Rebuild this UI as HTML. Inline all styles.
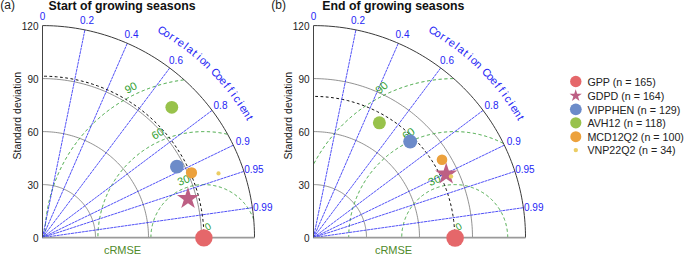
<!DOCTYPE html>
<html><head><meta charset="utf-8"><style>html,body{margin:0;padding:0;background:#fff}svg{display:block}</style></head>
<body>
<svg width="685" height="255" viewBox="0 0 685 255" font-family="'Liberation Sans', sans-serif">
<rect width="100%" height="100%" fill="#fff"/>
<path d="M95.50,237.60 L95.49,236.68 L95.47,235.75 L95.43,234.83 L95.37,233.90 L95.30,232.98 L95.21,232.06 L95.10,231.14 L94.98,230.22 L94.85,229.31 L94.69,228.40 L94.53,227.49 L94.34,226.58 L94.14,225.68 L93.93,224.78 L93.69,223.88 L93.45,222.99 L93.18,222.10 L92.91,221.22 L92.61,220.34 L92.30,219.47 L91.98,218.61 L91.64,217.75 L91.29,216.89 L90.92,216.04 L90.53,215.20 L90.14,214.37 L89.72,213.54 L89.30,212.72 L88.85,211.91 L88.40,211.10 L87.93,210.30 L87.45,209.51 L86.95,208.73 L86.44,207.96 L85.92,207.20 L85.38,206.45 L84.83,205.70 L84.26,204.97 L83.69,204.25 L83.10,203.53 L82.50,202.83 L81.89,202.14 L81.26,201.45 L80.63,200.78 L79.98,200.12 L79.32,199.47 L78.65,198.84 L77.96,198.21 L77.27,197.60 L76.57,197.00 L75.85,196.41 L75.13,195.84 L74.40,195.27 L73.65,194.72 L72.90,194.18 L72.14,193.66 L71.37,193.15 L70.59,192.65 L69.80,192.17 L69.00,191.70 L68.19,191.25 L67.38,190.80 L66.56,190.38 L65.73,189.96 L64.90,189.57 L64.06,189.18 L63.21,188.81 L62.35,188.46 L61.49,188.12 L60.63,187.80 L59.76,187.49 L58.88,187.19 L58.00,186.92 L57.11,186.65 L56.22,186.41 L55.32,186.17 L54.42,185.96 L53.52,185.76 L52.61,185.57 L51.70,185.41 L50.79,185.25 L49.88,185.12 L48.96,185.00 L48.04,184.89 L47.12,184.80 L46.20,184.73 L45.27,184.67 L44.35,184.63 L43.42,184.61 L42.50,184.60" fill="none" stroke="#6e6e6e" stroke-width="0.75"/>
<path d="M148.50,237.60 L148.48,235.75 L148.44,233.90 L148.35,232.05 L148.24,230.21 L148.10,228.36 L147.92,226.52 L147.71,224.68 L147.47,222.85 L147.19,221.02 L146.89,219.19 L146.55,217.37 L146.18,215.56 L145.78,213.76 L145.35,211.96 L144.89,210.17 L144.39,208.38 L143.87,206.61 L143.31,204.84 L142.72,203.09 L142.11,201.35 L141.46,199.61 L140.78,197.89 L140.07,196.18 L139.34,194.49 L138.57,192.80 L137.77,191.13 L136.95,189.48 L136.09,187.84 L135.21,186.21 L134.30,184.60 L133.36,183.01 L132.39,181.43 L131.40,179.87 L130.38,178.33 L129.33,176.80 L128.26,175.29 L127.16,173.81 L126.03,172.34 L124.88,170.89 L123.70,169.46 L122.50,168.06 L121.27,166.67 L120.02,165.31 L118.75,163.97 L117.45,162.65 L116.13,161.35 L114.79,160.08 L113.43,158.83 L112.04,157.60 L110.64,156.40 L109.21,155.22 L107.76,154.07 L106.29,152.94 L104.81,151.84 L103.30,150.77 L101.77,149.72 L100.23,148.70 L98.67,147.71 L97.09,146.74 L95.50,145.80 L93.89,144.89 L92.26,144.01 L90.62,143.15 L88.97,142.33 L87.30,141.53 L85.61,140.76 L83.92,140.03 L82.21,139.32 L80.49,138.64 L78.75,137.99 L77.01,137.38 L75.26,136.79 L73.49,136.23 L71.72,135.71 L69.93,135.21 L68.14,134.75 L66.34,134.32 L64.54,133.92 L62.73,133.55 L60.91,133.21 L59.08,132.91 L57.25,132.63 L55.42,132.39 L53.58,132.18 L51.74,132.00 L49.89,131.86 L48.05,131.75 L46.20,131.66 L44.35,131.62 L42.50,131.60" fill="none" stroke="#6e6e6e" stroke-width="0.75"/>
<path d="M201.50,237.60 L201.48,234.83 L201.40,232.05 L201.28,229.28 L201.11,226.51 L200.89,223.74 L200.63,220.98 L200.31,218.22 L199.95,215.47 L199.54,212.73 L199.08,209.99 L198.58,207.26 L198.03,204.54 L197.42,201.83 L196.78,199.13 L196.08,196.45 L195.34,193.77 L194.55,191.11 L193.72,188.47 L192.84,185.83 L191.91,183.22 L190.94,180.62 L189.92,178.04 L188.86,175.47 L187.75,172.93 L186.60,170.40 L185.41,167.90 L184.17,165.42 L182.89,162.95 L181.56,160.52 L180.20,158.10 L178.79,155.71 L177.34,153.34 L175.85,151.00 L174.32,148.69 L172.75,146.40 L171.13,144.14 L169.48,141.91 L167.79,139.71 L166.07,137.54 L164.30,135.40 L162.50,133.29 L160.66,131.21 L158.79,129.16 L156.88,127.15 L154.93,125.17 L152.95,123.22 L150.94,121.31 L148.89,119.44 L146.81,117.60 L144.70,115.80 L142.56,114.03 L140.39,112.31 L138.19,110.62 L135.96,108.97 L133.70,107.35 L131.41,105.78 L129.10,104.25 L126.76,102.76 L124.39,101.31 L122.00,99.90 L119.58,98.54 L117.15,97.21 L114.68,95.93 L112.20,94.69 L109.70,93.50 L107.17,92.35 L104.63,91.24 L102.06,90.18 L99.48,89.16 L96.88,88.19 L94.27,87.26 L91.63,86.38 L88.99,85.55 L86.33,84.76 L83.65,84.02 L80.97,83.32 L78.27,82.68 L75.56,82.07 L72.84,81.52 L70.11,81.02 L67.37,80.56 L64.63,80.15 L61.88,79.79 L59.12,79.47 L56.36,79.21 L53.59,78.99 L50.82,78.82 L48.05,78.70 L45.27,78.62 L42.50,78.60" fill="none" stroke="#6e6e6e" stroke-width="0.75"/>
<path d="M253.70,219.47 L253.62,219.26 L253.54,219.04 L253.46,218.82 L253.38,218.61 L253.30,218.39 L253.21,218.18 L253.13,217.96 L253.04,217.75 L252.95,217.53 L252.87,217.32 L252.78,217.10 L252.69,216.89 L252.60,216.68 L252.50,216.47 L252.41,216.25 L252.32,216.04 L252.22,215.83 L252.13,215.62 L252.03,215.41 L251.93,215.20 L251.84,214.99 L251.74,214.78 L251.64,214.57 L251.54,214.37 L251.43,214.16 L251.33,213.95 L251.23,213.74 L251.12,213.54 L251.02,213.33 L250.91,213.13 L250.80,212.92 L250.70,212.72 L250.59,212.51 L250.48,212.31 L250.37,212.11 L250.25,211.91 L250.14,211.70 L250.03,211.50 L249.91,211.30 L249.80,211.10 L249.68,210.90 L249.57,210.70 L249.45,210.50 L249.33,210.30 L249.21,210.11 L249.09,209.91 L248.97,209.71 L248.85,209.51 L248.72,209.32 L248.60,209.12 L248.48,208.93 L248.35,208.73 L248.22,208.54 L248.10,208.35 L247.97,208.15 L247.84,207.96 L247.71,207.77 L247.58,207.58 L247.45,207.39 L247.32,207.20 L247.18,207.01 L247.05,206.82 L246.91,206.63 L246.78,206.45 L246.64,206.26 L246.50,206.07 L246.37,205.89 L246.23,205.70 L246.09,205.52 L245.95,205.34 L245.81,205.15 L245.66,204.97 L245.52,204.79 L245.38,204.61 L245.23,204.43 L245.09,204.25 L244.94,204.07 L244.80,203.89 L244.65,203.71 L244.50,203.53 L244.35,203.36 L244.20,203.18 L244.05,203.00 L243.90,202.83 L243.75,202.65 L243.59,202.48 L243.44,202.31 L243.29,202.14 L243.13,201.96 L242.98,201.79 L242.82,201.62 L242.66,201.45 L242.50,201.29 L242.34,201.12 L242.19,200.95 L242.03,200.78 L241.86,200.62 L241.70,200.45 L241.54,200.29 L241.38,200.12 L241.21,199.96 L241.05,199.80 L240.88,199.64 L240.72,199.47 L240.55,199.31 L240.38,199.16 L240.21,199.00 L240.05,198.84 L239.88,198.68 L239.71,198.52 L239.54,198.37 L239.36,198.21 L239.19,198.06 L239.02,197.91 L238.85,197.75 L238.67,197.60 L238.50,197.45 L238.32,197.30 L238.14,197.15 L237.97,197.00 L237.79,196.85 L237.61,196.70 L237.43,196.56 L237.25,196.41 L237.07,196.27 L236.89,196.12 L236.71,195.98 L236.53,195.84 L236.35,195.69 L236.16,195.55 L235.98,195.41 L235.80,195.27 L235.61,195.13 L235.43,195.00 L235.24,194.86 L235.05,194.72 L234.87,194.59 L234.68,194.45 L234.49,194.32 L234.30,194.18 L234.11,194.05 L233.92,193.92 L233.73,193.79 L233.54,193.66 L233.35,193.53 L233.15,193.40 L232.96,193.28 L232.77,193.15 L232.57,193.02 L232.38,192.90 L232.18,192.78 L231.99,192.65 L231.79,192.53 L231.59,192.41 L231.39,192.29 L231.20,192.17 L231.00,192.05 L230.80,191.93 L230.60,191.82 L230.40,191.70 L230.20,191.59 L230.00,191.47 L229.80,191.36 L229.59,191.25 L229.39,191.13 L229.19,191.02 L228.99,190.91 L228.78,190.80 L228.58,190.70 L228.37,190.59 L228.17,190.48 L227.96,190.38 L227.76,190.27 L227.55,190.17 L227.34,190.07 L227.13,189.96 L226.93,189.86 L226.72,189.76 L226.51,189.66 L226.30,189.57 L226.09,189.47 L225.88,189.37 L225.67,189.28 L225.46,189.18 L225.25,189.09 L225.03,189.00 L224.82,188.90 L224.61,188.81 L224.40,188.72 L224.18,188.63 L223.97,188.55 L223.75,188.46 L223.54,188.37 L223.32,188.29 L223.11,188.20 L222.89,188.12 L222.68,188.04 L222.46,187.96 L222.24,187.88 L222.03,187.80 L221.81,187.72 L221.59,187.64 L221.37,187.56 L221.16,187.49 L220.94,187.41 L220.72,187.34 L220.50,187.27 L220.28,187.19 L220.06,187.12 L219.84,187.05 L219.62,186.98 L219.40,186.92 L219.17,186.85 L218.95,186.78 L218.73,186.72 L218.51,186.65 L218.29,186.59 L218.06,186.53 L217.84,186.47 L217.62,186.41 L217.39,186.35 L217.17,186.29 L216.95,186.23 L216.72,186.17 L216.50,186.12 L216.27,186.06 L216.05,186.01 L215.82,185.96 L215.60,185.91 L215.37,185.86 L215.15,185.81 L214.92,185.76 L214.69,185.71 L214.47,185.66 L214.24,185.62 L214.01,185.57 L213.79,185.53 L213.56,185.49 L213.33,185.45 L213.10,185.41 L212.88,185.37 L212.65,185.33 L212.42,185.29 L212.19,185.25 L211.96,185.22 L211.73,185.18 L211.51,185.15 L211.28,185.12 L211.05,185.08 L210.82,185.05 L210.59,185.02 L210.36,185.00 L210.13,184.97 L209.90,184.94 L209.67,184.92 L209.44,184.89 L209.21,184.87 L208.98,184.84 L208.75,184.82 L208.52,184.80 L208.29,184.78 L208.06,184.76 L207.83,184.75 L207.60,184.73 L207.37,184.71 L207.14,184.70 L206.90,184.69 L206.67,184.67 L206.44,184.66 L206.21,184.65 L205.98,184.64 L205.75,184.63 L205.52,184.62 L205.29,184.62 L205.06,184.61 L204.82,184.61 L204.59,184.60 L204.36,184.60 L204.13,184.60 L203.90,184.60 L203.67,184.60 L203.44,184.60 L203.21,184.60 L202.98,184.61 L202.74,184.61 L202.51,184.62 L202.28,184.62 L202.05,184.63 L201.82,184.64 L201.59,184.65 L201.36,184.66 L201.13,184.67 L200.90,184.69 L200.66,184.70 L200.43,184.71 L200.20,184.73 L199.97,184.75 L199.74,184.76 L199.51,184.78 L199.28,184.80 L199.05,184.82 L198.82,184.84 L198.59,184.87 L198.36,184.89 L198.13,184.92 L197.90,184.94 L197.67,184.97 L197.44,185.00 L197.21,185.02 L196.98,185.05 L196.75,185.08 L196.52,185.12 L196.29,185.15 L196.07,185.18 L195.84,185.22 L195.61,185.25 L195.38,185.29 L195.15,185.33 L194.92,185.37 L194.70,185.41 L194.47,185.45 L194.24,185.49 L194.01,185.53 L193.79,185.57 L193.56,185.62 L193.33,185.66 L193.11,185.71 L192.88,185.76 L192.65,185.81 L192.43,185.86 L192.20,185.91 L191.98,185.96 L191.75,186.01 L191.53,186.06 L191.30,186.12 L191.08,186.17 L190.85,186.23 L190.63,186.29 L190.41,186.35 L190.18,186.41 L189.96,186.47 L189.74,186.53 L189.51,186.59 L189.29,186.65 L189.07,186.72 L188.85,186.78 L188.63,186.85 L188.40,186.92 L188.18,186.98 L187.96,187.05 L187.74,187.12 L187.52,187.19 L187.30,187.27 L187.08,187.34 L186.86,187.41 L186.64,187.49 L186.43,187.56 L186.21,187.64 L185.99,187.72 L185.77,187.80 L185.56,187.88 L185.34,187.96 L185.12,188.04 L184.91,188.12 L184.69,188.20 L184.48,188.29 L184.26,188.37 L184.05,188.46 L183.83,188.55 L183.62,188.63 L183.40,188.72 L183.19,188.81 L182.98,188.90 L182.77,189.00 L182.55,189.09 L182.34,189.18 L182.13,189.28 L181.92,189.37 L181.71,189.47 L181.50,189.57 L181.29,189.66 L181.08,189.76 L180.87,189.86 L180.67,189.96 L180.46,190.07 L180.25,190.17 L180.04,190.27 L179.84,190.38 L179.63,190.48 L179.43,190.59 L179.22,190.70 L179.02,190.80 L178.81,190.91 L178.61,191.02 L178.41,191.13 L178.21,191.25 L178.00,191.36 L177.80,191.47 L177.60,191.59 L177.40,191.70 L177.20,191.82 L177.00,191.93 L176.80,192.05 L176.60,192.17 L176.41,192.29 L176.21,192.41 L176.01,192.53 L175.81,192.65 L175.62,192.78 L175.42,192.90 L175.23,193.02 L175.03,193.15 L174.84,193.28 L174.65,193.40 L174.45,193.53 L174.26,193.66 L174.07,193.79 L173.88,193.92 L173.69,194.05 L173.50,194.18 L173.31,194.32 L173.12,194.45 L172.93,194.59 L172.75,194.72 L172.56,194.86 L172.37,195.00 L172.19,195.13 L172.00,195.27 L171.82,195.41 L171.64,195.55 L171.45,195.69 L171.27,195.84 L171.09,195.98 L170.91,196.12 L170.73,196.27 L170.55,196.41 L170.37,196.56 L170.19,196.70 L170.01,196.85 L169.83,197.00 L169.66,197.15 L169.48,197.30 L169.30,197.45 L169.13,197.60 L168.95,197.75 L168.78,197.91 L168.61,198.06 L168.44,198.21 L168.26,198.37 L168.09,198.52 L167.92,198.68 L167.75,198.84 L167.59,199.00 L167.42,199.16 L167.25,199.31 L167.08,199.47 L166.92,199.64 L166.75,199.80 L166.59,199.96 L166.42,200.12 L166.26,200.29 L166.10,200.45 L165.94,200.62 L165.77,200.78 L165.61,200.95 L165.46,201.12 L165.30,201.29 L165.14,201.45 L164.98,201.62 L164.82,201.79 L164.67,201.96 L164.51,202.14 L164.36,202.31 L164.21,202.48 L164.05,202.65 L163.90,202.83 L163.75,203.00 L163.60,203.18 L163.45,203.36 L163.30,203.53 L163.15,203.71 L163.00,203.89 L162.86,204.07 L162.71,204.25 L162.57,204.43 L162.42,204.61 L162.28,204.79 L162.14,204.97 L161.99,205.15 L161.85,205.34 L161.71,205.52 L161.57,205.70 L161.43,205.89 L161.30,206.07 L161.16,206.26 L161.02,206.45 L160.89,206.63 L160.75,206.82 L160.62,207.01 L160.48,207.20 L160.35,207.39 L160.22,207.58 L160.09,207.77 L159.96,207.96 L159.83,208.15 L159.70,208.35 L159.58,208.54 L159.45,208.73 L159.32,208.93 L159.20,209.12 L159.08,209.32 L158.95,209.51 L158.83,209.71 L158.71,209.91 L158.59,210.11 L158.47,210.30 L158.35,210.50 L158.23,210.70 L158.12,210.90 L158.00,211.10 L157.89,211.30 L157.77,211.50 L157.66,211.70 L157.55,211.91 L157.43,212.11 L157.32,212.31 L157.21,212.51 L157.10,212.72 L157.00,212.92 L156.89,213.13 L156.78,213.33 L156.68,213.54 L156.57,213.74 L156.47,213.95 L156.37,214.16 L156.26,214.37 L156.16,214.57 L156.06,214.78 L155.96,214.99 L155.87,215.20 L155.77,215.41 L155.67,215.62 L155.58,215.83 L155.48,216.04 L155.39,216.25 L155.30,216.47 L155.20,216.68 L155.11,216.89 L155.02,217.10 L154.93,217.32 L154.85,217.53 L154.76,217.75 L154.67,217.96 L154.59,218.18 L154.50,218.39 L154.42,218.61 L154.34,218.82 L154.26,219.04 L154.18,219.26 L154.10,219.47 L154.02,219.69 L153.94,219.91 L153.86,220.13 L153.79,220.34 L153.71,220.56 L153.64,220.78 L153.57,221.00 L153.49,221.22 L153.42,221.44 L153.35,221.66 L153.28,221.88 L153.22,222.10 L153.15,222.33 L153.08,222.55 L153.02,222.77 L152.95,222.99 L152.89,223.21 L152.83,223.44 L152.77,223.66 L152.71,223.88 L152.65,224.11 L152.59,224.33 L152.53,224.55 L152.47,224.78 L152.42,225.00 L152.36,225.23 L152.31,225.45 L152.26,225.68 L152.21,225.90 L152.16,226.13 L152.11,226.35 L152.06,226.58 L152.01,226.81 L151.96,227.03 L151.92,227.26 L151.87,227.49 L151.83,227.71 L151.79,227.94 L151.75,228.17 L151.71,228.40 L151.67,228.62 L151.63,228.85 L151.59,229.08 L151.55,229.31 L151.52,229.54 L151.48,229.77 L151.45,229.99 L151.42,230.22 L151.38,230.45 L151.35,230.68 L151.32,230.91 L151.30,231.14 L151.27,231.37 L151.24,231.60 L151.22,231.83 L151.19,232.06 L151.17,232.29 L151.14,232.52 L151.12,232.75 L151.10,232.98 L151.08,233.21 L151.06,233.44 L151.05,233.67 L151.03,233.90 L151.01,234.13 L151.00,234.36 L150.99,234.60 L150.97,234.83 L150.96,235.06 L150.95,235.29 L150.94,235.52 L150.93,235.75 L150.92,235.98 L150.92,236.21 L150.91,236.44 L150.91,236.68 L150.90,236.91 L150.90,237.14 L150.90,237.37 L150.90,237.60" fill="none" stroke="#33a033" stroke-width="1" stroke-dasharray="3.2,2.6"/>
<path d="M227.29,134.21 L226.84,134.11 L226.39,134.01 L225.94,133.92 L225.49,133.82 L225.03,133.73 L224.58,133.64 L224.13,133.55 L223.67,133.46 L223.22,133.37 L222.76,133.29 L222.31,133.21 L221.85,133.13 L221.40,133.05 L220.94,132.98 L220.48,132.91 L220.03,132.83 L219.57,132.76 L219.11,132.70 L218.65,132.63 L218.19,132.57 L217.74,132.51 L217.28,132.45 L216.82,132.39 L216.36,132.33 L215.90,132.28 L215.44,132.23 L214.98,132.18 L214.52,132.13 L214.06,132.09 L213.60,132.04 L213.14,132.00 L212.68,131.96 L212.22,131.93 L211.76,131.89 L211.29,131.86 L210.83,131.83 L210.37,131.80 L209.91,131.77 L209.45,131.75 L208.99,131.72 L208.52,131.70 L208.06,131.68 L207.60,131.66 L207.14,131.65 L206.67,131.64 L206.21,131.63 L205.75,131.62 L205.29,131.61 L204.83,131.60 L204.36,131.60 L203.90,131.60 L203.44,131.60 L202.97,131.60 L202.51,131.61 L202.05,131.62 L201.59,131.63 L201.13,131.64 L200.66,131.65 L200.20,131.66 L199.74,131.68 L199.28,131.70 L198.81,131.72 L198.35,131.75 L197.89,131.77 L197.43,131.80 L196.97,131.83 L196.51,131.86 L196.04,131.89 L195.58,131.93 L195.12,131.96 L194.66,132.00 L194.20,132.04 L193.74,132.09 L193.28,132.13 L192.82,132.18 L192.36,132.23 L191.90,132.28 L191.44,132.33 L190.98,132.39 L190.52,132.45 L190.06,132.51 L189.61,132.57 L189.15,132.63 L188.69,132.70 L188.23,132.76 L187.77,132.83 L187.32,132.91 L186.86,132.98 L186.40,133.05 L185.95,133.13 L185.49,133.21 L185.04,133.29 L184.58,133.37 L184.13,133.46 L183.67,133.55 L183.22,133.64 L182.77,133.73 L182.31,133.82 L181.86,133.92 L181.41,134.01 L180.96,134.11 L180.51,134.21 L180.06,134.32 L179.60,134.42 L179.15,134.53 L178.71,134.64 L178.26,134.75 L177.81,134.86 L177.36,134.98 L176.91,135.09 L176.47,135.21 L176.02,135.33 L175.57,135.46 L175.13,135.58 L174.68,135.71 L174.24,135.83 L173.79,135.97 L173.35,136.10 L172.91,136.23 L172.47,136.37 L172.03,136.51 L171.58,136.65 L171.14,136.79 L170.70,136.93 L170.27,137.08 L169.83,137.23 L169.39,137.38 L168.95,137.53 L168.52,137.68 L168.08,137.84 L167.65,137.99 L167.21,138.15 L166.78,138.31 L166.35,138.48 L165.91,138.64 L165.48,138.81 L165.05,138.98 L164.62,139.15 L164.19,139.32 L163.76,139.49 L163.34,139.67 L162.91,139.85 L162.48,140.03 L162.06,140.21 L161.63,140.39 L161.21,140.58 L160.79,140.76 L160.36,140.95 L159.94,141.14 L159.52,141.34 L159.10,141.53 L158.68,141.73 L158.27,141.93 L157.85,142.13 L157.43,142.33 L157.02,142.53 L156.60,142.74 L156.19,142.94 L155.78,143.15 L155.37,143.36 L154.95,143.58 L154.54,143.79 L154.14,144.01 L153.73,144.23 L153.32,144.45 L152.92,144.67 L152.51,144.89 L152.11,145.12 L151.70,145.34 L151.30,145.57 L150.90,145.80 L150.50,146.03 L150.10,146.27 L149.70,146.50 L149.31,146.74 L148.91,146.98 L148.52,147.22 L148.12,147.46 L147.73,147.71 L147.34,147.95 L146.95,148.20 L146.56,148.45 L146.17,148.70 L145.78,148.95 L145.39,149.21 L145.01,149.46 L144.63,149.72 L144.24,149.98 L143.86,150.24 L143.48,150.51 L143.10,150.77 L142.72,151.04 L142.35,151.30 L141.97,151.57 L141.59,151.84 L141.22,152.12 L140.85,152.39 L140.48,152.67 L140.11,152.94 L139.74,153.22 L139.37,153.50 L139.00,153.79 L138.64,154.07 L138.28,154.36 L137.91,154.64 L137.55,154.93 L137.19,155.22 L136.83,155.51 L136.48,155.81 L136.12,156.10 L135.76,156.40 L135.41,156.70 L135.06,157.00 L134.71,157.30 L134.36,157.60 L134.01,157.90 L133.66,158.21 L133.32,158.52 L132.97,158.83 L132.63,159.14 L132.29,159.45 L131.95,159.76 L131.61,160.08 L131.27,160.39 L130.93,160.71 L130.60,161.03 L130.27,161.35 L129.93,161.67 L129.60,162.00 L129.27,162.32 L128.95,162.65 L128.62,162.97 L128.30,163.30 L127.97,163.63 L127.65,163.97 L127.33,164.30 L127.01,164.63 L126.69,164.97 L126.38,165.31 L126.06,165.65 L125.75,165.99 L125.44,166.33 L125.13,166.67 L124.82,167.02 L124.51,167.36 L124.20,167.71 L123.90,168.06 L123.60,168.41 L123.30,168.76 L123.00,169.11 L122.70,169.46 L122.40,169.82 L122.11,170.18 L121.81,170.53 L121.52,170.89 L121.23,171.25 L120.94,171.61 L120.66,171.98 L120.37,172.34 L120.09,172.70 L119.80,173.07 L119.52,173.44 L119.24,173.81 L118.97,174.18 L118.69,174.55 L118.42,174.92 L118.14,175.29 L117.87,175.67 L117.60,176.05 L117.34,176.42 L117.07,176.80 L116.81,177.18 L116.54,177.56 L116.28,177.94 L116.02,178.33 L115.76,178.71 L115.51,179.09 L115.25,179.48 L115.00,179.87 L114.75,180.26 L114.50,180.65 L114.25,181.04 L114.01,181.43 L113.76,181.82 L113.52,182.22 L113.28,182.61 L113.04,183.01 L112.80,183.40 L112.57,183.80 L112.33,184.20 L112.10,184.60 L111.87,185.00 L111.64,185.40 L111.42,185.81 L111.19,186.21 L110.97,186.62 L110.75,187.02 L110.53,187.43 L110.31,187.84 L110.09,188.24 L109.88,188.65 L109.66,189.07 L109.45,189.48 L109.24,189.89 L109.04,190.30 L108.83,190.72 L108.63,191.13 L108.43,191.55 L108.23,191.97 L108.03,192.38 L107.83,192.80 L107.64,193.22 L107.44,193.64 L107.25,194.06 L107.06,194.49 L106.88,194.91 L106.69,195.33 L106.51,195.76 L106.33,196.18 L106.15,196.61 L105.97,197.04 L105.79,197.46 L105.62,197.89 L105.45,198.32 L105.28,198.75 L105.11,199.18 L104.94,199.61 L104.78,200.05 L104.61,200.48 L104.45,200.91 L104.29,201.35 L104.14,201.78 L103.98,202.22 L103.83,202.65 L103.68,203.09 L103.53,203.53 L103.38,203.97 L103.23,204.40 L103.09,204.84 L102.95,205.28 L102.81,205.73 L102.67,206.17 L102.53,206.61 L102.40,207.05 L102.27,207.49 L102.13,207.94 L102.01,208.38 L101.88,208.83 L101.76,209.27 L101.63,209.72 L101.51,210.17 L101.39,210.61 L101.28,211.06 L101.16,211.51 L101.05,211.96 L100.94,212.41 L100.83,212.85 L100.72,213.30 L100.62,213.76 L100.51,214.21 L100.41,214.66 L100.31,215.11 L100.22,215.56 L100.12,216.01 L100.03,216.47 L99.94,216.92 L99.85,217.37 L99.76,217.83 L99.67,218.28 L99.59,218.74 L99.51,219.19 L99.43,219.65 L99.35,220.10 L99.28,220.56 L99.21,221.02 L99.13,221.47 L99.06,221.93 L99.00,222.39 L98.93,222.85 L98.87,223.31 L98.81,223.76 L98.75,224.22 L98.69,224.68 L98.63,225.14 L98.58,225.60 L98.53,226.06 L98.48,226.52 L98.43,226.98 L98.39,227.44 L98.34,227.90 L98.30,228.36 L98.26,228.82 L98.23,229.28 L98.19,229.74 L98.16,230.21 L98.13,230.67 L98.10,231.13 L98.07,231.59 L98.05,232.05 L98.02,232.51 L98.00,232.98 L97.98,233.44 L97.96,233.90 L97.95,234.36 L97.94,234.83 L97.93,235.29 L97.92,235.75 L97.91,236.21 L97.90,236.67 L97.90,237.14 L97.90,237.60" fill="none" stroke="#33a033" stroke-width="1" stroke-dasharray="3.2,2.6"/>
<path d="M183.83,79.87 L183.15,79.96 L182.46,80.05 L181.77,80.15 L181.08,80.25 L180.40,80.35 L179.71,80.45 L179.03,80.56 L178.34,80.67 L177.66,80.78 L176.97,80.90 L176.29,81.02 L175.61,81.14 L174.92,81.26 L174.24,81.39 L173.56,81.52 L172.88,81.66 L172.20,81.79 L171.52,81.93 L170.84,82.07 L170.16,82.22 L169.49,82.37 L168.81,82.52 L168.13,82.68 L167.46,82.83 L166.78,82.99 L166.11,83.16 L165.43,83.32 L164.76,83.49 L164.09,83.66 L163.42,83.84 L162.75,84.02 L162.08,84.20 L161.41,84.38 L160.74,84.57 L160.07,84.76 L159.41,84.95 L158.74,85.15 L158.08,85.35 L157.41,85.55 L156.75,85.75 L156.09,85.96 L155.43,86.17 L154.77,86.38 L154.11,86.60 L153.45,86.82 L152.79,87.04 L152.13,87.26 L151.48,87.49 L150.82,87.72 L150.17,87.95 L149.52,88.19 L148.87,88.43 L148.22,88.67 L147.57,88.91 L146.92,89.16 L146.27,89.41 L145.63,89.66 L144.98,89.92 L144.34,90.18 L143.69,90.44 L143.05,90.70 L142.41,90.97 L141.77,91.24 L141.14,91.51 L140.50,91.79 L139.86,92.07 L139.23,92.35 L138.60,92.63 L137.96,92.92 L137.33,93.21 L136.70,93.50 L136.08,93.79 L135.45,94.09 L134.82,94.39 L134.20,94.69 L133.58,95.00 L132.95,95.31 L132.33,95.62 L131.72,95.93 L131.10,96.25 L130.48,96.57 L129.87,96.89 L129.25,97.21 L128.64,97.54 L128.03,97.87 L127.42,98.20 L126.82,98.54 L126.21,98.87 L125.60,99.21 L125.00,99.56 L124.40,99.90 L123.80,100.25 L123.20,100.60 L122.60,100.95 L122.01,101.31 L121.42,101.67 L120.82,102.03 L120.23,102.39 L119.64,102.76 L119.06,103.13 L118.47,103.50 L117.89,103.87 L117.30,104.25 L116.72,104.63 L116.14,105.01 L115.56,105.40 L114.99,105.78 L114.41,106.17 L113.84,106.56 L113.27,106.96 L112.70,107.35 L112.13,107.75 L111.57,108.16 L111.00,108.56 L110.44,108.97 L109.88,109.38 L109.32,109.79 L108.77,110.20 L108.21,110.62 L107.66,111.04 L107.11,111.46 L106.56,111.88 L106.01,112.31 L105.46,112.73 L104.92,113.17 L104.38,113.60 L103.84,114.03 L103.30,114.47 L102.76,114.91 L102.23,115.35 L101.70,115.80 L101.17,116.25 L100.64,116.70 L100.11,117.15 L99.59,117.60 L99.06,118.06 L98.54,118.52 L98.02,118.98 L97.51,119.44 L96.99,119.91 L96.48,120.37 L95.97,120.84 L95.46,121.31 L94.96,121.79 L94.45,122.27 L93.95,122.74 L93.45,123.22 L92.95,123.71 L92.46,124.19 L91.96,124.68 L91.47,125.17 L90.98,125.66 L90.49,126.16 L90.01,126.65 L89.52,127.15 L89.04,127.65 L88.57,128.15 L88.09,128.66 L87.61,129.16 L87.14,129.67 L86.67,130.18 L86.21,130.69 L85.74,131.21 L85.28,131.72 L84.82,132.24 L84.36,132.76 L83.90,133.29 L83.45,133.81 L83.00,134.34 L82.55,134.87 L82.10,135.40 L81.65,135.93 L81.21,136.46 L80.77,137.00 L80.33,137.54 L79.90,138.08 L79.47,138.62 L79.03,139.16 L78.61,139.71 L78.18,140.26 L77.76,140.81 L77.34,141.36 L76.92,141.91 L76.50,142.47 L76.09,143.02 L75.68,143.58 L75.27,144.14 L74.86,144.70 L74.46,145.27 L74.05,145.83 L73.65,146.40 L73.26,146.97 L72.86,147.54 L72.47,148.11 L72.08,148.69 L71.70,149.26 L71.31,149.84 L70.93,150.42 L70.55,151.00 L70.17,151.59 L69.80,152.17 L69.43,152.76 L69.06,153.34 L68.69,153.93 L68.33,154.52 L67.97,155.12 L67.61,155.71 L67.25,156.30 L66.90,156.90 L66.55,157.50 L66.20,158.10 L65.86,158.70 L65.51,159.30 L65.17,159.91 L64.84,160.52 L64.50,161.12 L64.17,161.73 L63.84,162.34 L63.51,162.95 L63.19,163.57 L62.87,164.18 L62.55,164.80 L62.23,165.42 L61.92,166.03 L61.61,166.65 L61.30,167.28 L60.99,167.90 L60.69,168.52 L60.39,169.15 L60.09,169.78 L59.80,170.40 L59.51,171.03 L59.22,171.66 L58.93,172.30 L58.65,172.93 L58.37,173.56 L58.09,174.20 L57.81,174.84 L57.54,175.47 L57.27,176.11 L57.00,176.75 L56.74,177.39 L56.48,178.04 L56.22,178.68 L55.96,179.33 L55.71,179.97 L55.46,180.62 L55.21,181.27 L54.97,181.92 L54.73,182.57 L54.49,183.22 L54.25,183.87 L54.02,184.52 L53.79,185.18 L53.56,185.83 L53.34,186.49 L53.12,187.15 L52.90,187.81 L52.68,188.47 L52.47,189.13 L52.26,189.79 L52.05,190.45 L51.85,191.11 L51.65,191.78 L51.45,192.44 L51.25,193.11 L51.06,193.77 L50.87,194.44 L50.68,195.11 L50.50,195.78 L50.32,196.45 L50.14,197.12 L49.96,197.79 L49.79,198.46 L49.62,199.13 L49.46,199.81 L49.29,200.48 L49.13,201.16 L48.98,201.83 L48.82,202.51 L48.67,203.19 L48.52,203.86 L48.37,204.54 L48.23,205.22 L48.09,205.90 L47.96,206.58 L47.82,207.26 L47.69,207.94 L47.56,208.62 L47.44,209.31 L47.32,209.99 L47.20,210.67 L47.08,211.36 L46.97,212.04 L46.86,212.73 L46.75,213.41 L46.65,214.10 L46.55,214.78 L46.45,215.47 L46.35,216.16 L46.26,216.85 L46.17,217.53 L46.09,218.22 L46.00,218.91 L45.92,219.60 L45.85,220.29 L45.77,220.98 L45.70,221.67 L45.63,222.36 L45.57,223.05 L45.51,223.74 L45.45,224.43 L45.39,225.13 L45.34,225.82 L45.29,226.51 L45.24,227.20 L45.20,227.89 L45.16,228.59 L45.12,229.28 L45.08,229.97 L45.05,230.66 L45.02,231.36 L45.00,232.05 L44.97,232.74 L44.95,233.44 L44.94,234.13 L44.92,234.83 L44.91,235.52 L44.91,236.21 L44.90,236.91 L44.90,237.60" fill="none" stroke="#33a033" stroke-width="1" stroke-dasharray="3.2,2.6"/>
<path d="M203.90,237.60 L203.88,234.78 L203.80,231.97 L203.68,229.15 L203.51,226.34 L203.29,223.53 L203.02,220.73 L202.70,217.93 L202.33,215.14 L201.91,212.35 L201.45,209.57 L200.93,206.80 L200.37,204.04 L199.76,201.29 L199.11,198.55 L198.40,195.83 L197.65,193.11 L196.85,190.41 L196.00,187.72 L195.11,185.05 L194.17,182.40 L193.18,179.76 L192.15,177.14 L191.07,174.54 L189.95,171.95 L188.78,169.39 L187.57,166.85 L186.31,164.33 L185.01,161.83 L183.66,159.35 L182.28,156.90 L180.85,154.47 L179.37,152.07 L177.86,149.70 L176.31,147.35 L174.71,145.02 L173.08,142.73 L171.40,140.47 L169.68,138.23 L167.93,136.03 L166.14,133.85 L164.31,131.71 L162.44,129.60 L160.54,127.53 L158.60,125.48 L156.63,123.47 L154.62,121.50 L152.57,119.56 L150.50,117.66 L148.39,115.79 L146.25,113.96 L144.07,112.17 L141.87,110.42 L139.63,108.70 L137.37,107.02 L135.08,105.39 L132.75,103.79 L130.40,102.24 L128.03,100.73 L125.63,99.25 L123.20,97.82 L120.75,96.44 L118.27,95.09 L115.77,93.79 L113.25,92.53 L110.71,91.32 L108.15,90.15 L105.56,89.03 L102.96,87.95 L100.34,86.92 L97.70,85.93 L95.05,84.99 L92.38,84.10 L89.69,83.25 L86.99,82.45 L84.27,81.70 L81.55,80.99 L78.81,80.34 L76.06,79.73 L73.30,79.17 L70.53,78.65 L67.75,78.19 L64.96,77.77 L62.17,77.40 L59.37,77.08 L56.57,76.81 L53.76,76.59 L50.95,76.42 L48.13,76.30 L45.32,76.22 L42.50,76.20" fill="none" stroke="#000" stroke-width="0.95" stroke-dasharray="2.8,2.5"/>
<line x1="42.50" y1="237.60" x2="84.90" y2="29.88" stroke="#2626f5" stroke-width="0.8" stroke-dasharray="3,0.6"/>
<line x1="42.50" y1="237.60" x2="127.30" y2="43.30" stroke="#2626f5" stroke-width="0.8" stroke-dasharray="3,0.6"/>
<line x1="42.50" y1="237.60" x2="169.70" y2="68.00" stroke="#2626f5" stroke-width="0.8" stroke-dasharray="3,0.6"/>
<line x1="42.50" y1="237.60" x2="212.10" y2="110.40" stroke="#2626f5" stroke-width="0.8" stroke-dasharray="3,0.6"/>
<line x1="42.50" y1="237.60" x2="233.30" y2="145.19" stroke="#2626f5" stroke-width="0.8" stroke-dasharray="3,0.6"/>
<line x1="42.50" y1="237.60" x2="243.90" y2="171.40" stroke="#2626f5" stroke-width="0.8" stroke-dasharray="3,0.6"/>
<line x1="42.50" y1="237.60" x2="252.38" y2="207.69" stroke="#2626f5" stroke-width="0.8" stroke-dasharray="3,0.6"/>
<path d="M254.50,237.60 L254.47,233.90 L254.37,230.20 L254.21,226.50 L253.98,222.81 L253.69,219.12 L253.34,215.44 L252.92,211.76 L252.44,208.10 L251.89,204.44 L251.28,200.79 L250.60,197.15 L249.87,193.52 L249.07,189.91 L248.20,186.31 L247.28,182.73 L246.29,179.16 L245.24,175.62 L244.12,172.09 L242.95,168.58 L241.71,165.09 L240.42,161.63 L239.06,158.18 L237.65,154.77 L236.17,151.37 L234.64,148.00 L233.04,144.67 L231.39,141.35 L229.68,138.07 L227.92,134.82 L226.10,131.60 L224.22,128.41 L222.29,125.26 L220.30,122.14 L218.26,119.05 L216.16,116.00 L214.01,112.99 L211.81,110.02 L209.56,107.08 L207.25,104.18 L204.90,101.33 L202.50,98.52 L200.05,95.74 L197.55,93.02 L195.00,90.33 L192.41,87.69 L189.77,85.10 L187.08,82.55 L184.36,80.05 L181.58,77.60 L178.77,75.20 L175.92,72.85 L173.02,70.54 L170.08,68.29 L167.11,66.09 L164.10,63.94 L161.05,61.84 L157.96,59.80 L154.84,57.81 L151.69,55.88 L148.50,54.00 L145.28,52.18 L142.03,50.42 L138.75,48.71 L135.43,47.06 L132.10,45.46 L128.73,43.93 L125.33,42.45 L121.92,41.04 L118.47,39.68 L115.01,38.39 L111.52,37.15 L108.01,35.98 L104.48,34.86 L100.94,33.81 L97.37,32.82 L93.79,31.90 L90.19,31.03 L86.58,30.23 L82.95,29.50 L79.31,28.82 L75.66,28.21 L72.00,27.66 L68.34,27.18 L64.66,26.76 L60.98,26.41 L57.29,26.12 L53.60,25.89 L49.90,25.73 L46.20,25.63 L42.50,25.60" fill="none" stroke="#3a3a3a" stroke-width="1"/>
<line x1="42.50" y1="25.60" x2="42.50" y2="237.60" stroke="#444" stroke-width="1"/>
<line x1="42.50" y1="237.60" x2="254.50" y2="237.60" stroke="#9a9a9a" stroke-width="1.6"/>
<text x="38.50" y="242.20" font-size="10" text-anchor="end" fill="#222">0</text>
<text x="38.50" y="189.20" font-size="10" text-anchor="end" fill="#222">30</text>
<text x="38.50" y="136.20" font-size="10" text-anchor="end" fill="#222">60</text>
<text x="38.50" y="83.20" font-size="10" text-anchor="end" fill="#222">90</text>
<text x="38.50" y="30.20" font-size="10" text-anchor="end" fill="#222">120</text>
<text x="42.50" y="19.90" font-size="10" text-anchor="middle" fill="#2626f5">0</text>
<text x="87.00" y="24.40" font-size="10" text-anchor="middle" fill="#2626f5">0.2</text>
<text x="131.50" y="38.48" font-size="10" text-anchor="middle" fill="#2626f5">0.4</text>
<text x="176.00" y="64.40" font-size="10" text-anchor="middle" fill="#2626f5">0.6</text>
<text x="220.50" y="108.90" font-size="10" text-anchor="middle" fill="#2626f5">0.8</text>
<text x="242.75" y="145.41" font-size="10" text-anchor="middle" fill="#2626f5">0.9</text>
<text x="253.88" y="172.92" font-size="10" text-anchor="middle" fill="#2626f5">0.95</text>
<text x="262.77" y="211.01" font-size="10" text-anchor="middle" fill="#2626f5">0.99</text>
<text x="160.25" y="33.65" font-size="11" text-anchor="middle" fill="#2626f5" transform="rotate(30.00 160.25 33.65)">C</text>
<text x="165.07" y="36.51" font-size="11" text-anchor="middle" fill="#2626f5" transform="rotate(31.36 165.07 36.51)">o</text>
<text x="169.82" y="39.48" font-size="11" text-anchor="middle" fill="#2626f5" transform="rotate(32.73 169.82 39.48)">r</text>
<text x="174.50" y="42.57" font-size="11" text-anchor="middle" fill="#2626f5" transform="rotate(34.09 174.50 42.57)">r</text>
<text x="179.10" y="45.77" font-size="11" text-anchor="middle" fill="#2626f5" transform="rotate(35.45 179.10 45.77)">e</text>
<text x="183.63" y="49.07" font-size="11" text-anchor="middle" fill="#2626f5" transform="rotate(36.82 183.63 49.07)">l</text>
<text x="188.08" y="52.48" font-size="11" text-anchor="middle" fill="#2626f5" transform="rotate(38.18 188.08 52.48)">a</text>
<text x="192.44" y="56.00" font-size="11" text-anchor="middle" fill="#2626f5" transform="rotate(39.55 192.44 56.00)">t</text>
<text x="196.72" y="59.62" font-size="11" text-anchor="middle" fill="#2626f5" transform="rotate(40.91 196.72 59.62)">i</text>
<text x="200.91" y="63.34" font-size="11" text-anchor="middle" fill="#2626f5" transform="rotate(42.27 200.91 63.34)">o</text>
<text x="205.01" y="67.16" font-size="11" text-anchor="middle" fill="#2626f5" transform="rotate(43.64 205.01 67.16)">n</text>
<text x="212.94" y="75.09" font-size="11" text-anchor="middle" fill="#2626f5" transform="rotate(46.36 212.94 75.09)">C</text>
<text x="216.76" y="79.19" font-size="11" text-anchor="middle" fill="#2626f5" transform="rotate(47.73 216.76 79.19)">o</text>
<text x="220.48" y="83.38" font-size="11" text-anchor="middle" fill="#2626f5" transform="rotate(49.09 220.48 83.38)">e</text>
<text x="224.10" y="87.66" font-size="11" text-anchor="middle" fill="#2626f5" transform="rotate(50.45 224.10 87.66)">f</text>
<text x="227.62" y="92.02" font-size="11" text-anchor="middle" fill="#2626f5" transform="rotate(51.82 227.62 92.02)">f</text>
<text x="231.03" y="96.47" font-size="11" text-anchor="middle" fill="#2626f5" transform="rotate(53.18 231.03 96.47)">i</text>
<text x="234.33" y="101.00" font-size="11" text-anchor="middle" fill="#2626f5" transform="rotate(54.55 234.33 101.00)">c</text>
<text x="237.53" y="105.60" font-size="11" text-anchor="middle" fill="#2626f5" transform="rotate(55.91 237.53 105.60)">i</text>
<text x="240.62" y="110.28" font-size="11" text-anchor="middle" fill="#2626f5" transform="rotate(57.27 240.62 110.28)">e</text>
<text x="243.59" y="115.03" font-size="11" text-anchor="middle" fill="#2626f5" transform="rotate(58.64 243.59 115.03)">n</text>
<text x="246.45" y="119.85" font-size="11" text-anchor="middle" fill="#2626f5" transform="rotate(60.00 246.45 119.85)">t</text>
<text x="183.54" y="184.10" font-size="11" text-anchor="middle" fill="#33a033" transform="rotate(-22 183.54 180.10)">30</text>
<text x="157.53" y="137.46" font-size="11" text-anchor="middle" fill="#33a033" transform="rotate(-32 157.53 133.46)">60</text>
<text x="130.69" y="91.50" font-size="11" text-anchor="middle" fill="#33a033" transform="rotate(-28 130.69 87.50)">90</text>
<text x="207.90" y="230.10" font-size="10" text-anchor="middle" fill="#33a033" transform="rotate(-30 207.90 226.50)">0</text>
<text x="103.90" y="253.9" font-size="11" fill="#4f8a2a">cRMSE</text>
<text x="0" y="0" font-size="10.5" text-anchor="middle" fill="#222" transform="translate(21.00,115.7) rotate(-90)">Standard deviation</text>
<text x="48.60" y="9.6" font-size="12.3" font-weight="bold" fill="#111">Start of growing seasons</text>
<text x="0.30" y="9.4" font-size="12" fill="#222">(a)</text>
<circle cx="203.9" cy="237.9" r="8.7" fill="#e5676a"/>
<circle cx="176.9" cy="166.7" r="6.9" fill="#6c8bc9"/>
<circle cx="171.8" cy="107.3" r="6.4" fill="#98c24b"/>
<circle cx="191.5" cy="172.8" r="5.6" fill="#eca13c"/>
<polygon points="188.00,187.10 185.40,195.12 176.97,195.12 183.79,200.07 181.18,208.08 188.00,203.13 194.82,208.08 192.21,200.07 199.03,195.12 190.60,195.12" fill="#bd5f84"/>
<circle cx="218.5" cy="173.4" r="2.1" fill="#ebcd64"/>
<path d="M366.50,237.60 L366.49,236.68 L366.47,235.75 L366.43,234.83 L366.37,233.90 L366.30,232.98 L366.21,232.06 L366.10,231.14 L365.98,230.22 L365.85,229.31 L365.69,228.40 L365.53,227.49 L365.34,226.58 L365.14,225.68 L364.93,224.78 L364.69,223.88 L364.45,222.99 L364.18,222.10 L363.91,221.22 L363.61,220.34 L363.30,219.47 L362.98,218.61 L362.64,217.75 L362.29,216.89 L361.92,216.04 L361.53,215.20 L361.14,214.37 L360.72,213.54 L360.30,212.72 L359.85,211.91 L359.40,211.10 L358.93,210.30 L358.45,209.51 L357.95,208.73 L357.44,207.96 L356.92,207.20 L356.38,206.45 L355.83,205.70 L355.26,204.97 L354.69,204.25 L354.10,203.53 L353.50,202.83 L352.89,202.14 L352.26,201.45 L351.63,200.78 L350.98,200.12 L350.32,199.47 L349.65,198.84 L348.96,198.21 L348.27,197.60 L347.57,197.00 L346.85,196.41 L346.13,195.84 L345.40,195.27 L344.65,194.72 L343.90,194.18 L343.14,193.66 L342.37,193.15 L341.59,192.65 L340.80,192.17 L340.00,191.70 L339.19,191.25 L338.38,190.80 L337.56,190.38 L336.73,189.96 L335.90,189.57 L335.06,189.18 L334.21,188.81 L333.35,188.46 L332.49,188.12 L331.63,187.80 L330.76,187.49 L329.88,187.19 L329.00,186.92 L328.11,186.65 L327.22,186.41 L326.32,186.17 L325.42,185.96 L324.52,185.76 L323.61,185.57 L322.70,185.41 L321.79,185.25 L320.88,185.12 L319.96,185.00 L319.04,184.89 L318.12,184.80 L317.20,184.73 L316.27,184.67 L315.35,184.63 L314.42,184.61 L313.50,184.60" fill="none" stroke="#6e6e6e" stroke-width="0.75"/>
<path d="M419.50,237.60 L419.48,235.75 L419.44,233.90 L419.35,232.05 L419.24,230.21 L419.10,228.36 L418.92,226.52 L418.71,224.68 L418.47,222.85 L418.19,221.02 L417.89,219.19 L417.55,217.37 L417.18,215.56 L416.78,213.76 L416.35,211.96 L415.89,210.17 L415.39,208.38 L414.87,206.61 L414.31,204.84 L413.72,203.09 L413.11,201.35 L412.46,199.61 L411.78,197.89 L411.07,196.18 L410.34,194.49 L409.57,192.80 L408.77,191.13 L407.95,189.48 L407.09,187.84 L406.21,186.21 L405.30,184.60 L404.36,183.01 L403.39,181.43 L402.40,179.87 L401.38,178.33 L400.33,176.80 L399.26,175.29 L398.16,173.81 L397.03,172.34 L395.88,170.89 L394.70,169.46 L393.50,168.06 L392.27,166.67 L391.02,165.31 L389.75,163.97 L388.45,162.65 L387.13,161.35 L385.79,160.08 L384.43,158.83 L383.04,157.60 L381.64,156.40 L380.21,155.22 L378.76,154.07 L377.29,152.94 L375.81,151.84 L374.30,150.77 L372.77,149.72 L371.23,148.70 L369.67,147.71 L368.09,146.74 L366.50,145.80 L364.89,144.89 L363.26,144.01 L361.62,143.15 L359.97,142.33 L358.30,141.53 L356.61,140.76 L354.92,140.03 L353.21,139.32 L351.49,138.64 L349.75,137.99 L348.01,137.38 L346.26,136.79 L344.49,136.23 L342.72,135.71 L340.93,135.21 L339.14,134.75 L337.34,134.32 L335.54,133.92 L333.73,133.55 L331.91,133.21 L330.08,132.91 L328.25,132.63 L326.42,132.39 L324.58,132.18 L322.74,132.00 L320.89,131.86 L319.05,131.75 L317.20,131.66 L315.35,131.62 L313.50,131.60" fill="none" stroke="#6e6e6e" stroke-width="0.75"/>
<path d="M472.50,237.60 L472.48,234.83 L472.40,232.05 L472.28,229.28 L472.11,226.51 L471.89,223.74 L471.63,220.98 L471.31,218.22 L470.95,215.47 L470.54,212.73 L470.08,209.99 L469.58,207.26 L469.03,204.54 L468.42,201.83 L467.78,199.13 L467.08,196.45 L466.34,193.77 L465.55,191.11 L464.72,188.47 L463.84,185.83 L462.91,183.22 L461.94,180.62 L460.92,178.04 L459.86,175.47 L458.75,172.93 L457.60,170.40 L456.41,167.90 L455.17,165.42 L453.89,162.95 L452.56,160.52 L451.20,158.10 L449.79,155.71 L448.34,153.34 L446.85,151.00 L445.32,148.69 L443.75,146.40 L442.13,144.14 L440.48,141.91 L438.79,139.71 L437.07,137.54 L435.30,135.40 L433.50,133.29 L431.66,131.21 L429.79,129.16 L427.88,127.15 L425.93,125.17 L423.95,123.22 L421.94,121.31 L419.89,119.44 L417.81,117.60 L415.70,115.80 L413.56,114.03 L411.39,112.31 L409.19,110.62 L406.96,108.97 L404.70,107.35 L402.41,105.78 L400.10,104.25 L397.76,102.76 L395.39,101.31 L393.00,99.90 L390.58,98.54 L388.15,97.21 L385.68,95.93 L383.20,94.69 L380.70,93.50 L378.17,92.35 L375.63,91.24 L373.06,90.18 L370.48,89.16 L367.88,88.19 L365.27,87.26 L362.63,86.38 L359.99,85.55 L357.33,84.76 L354.65,84.02 L351.97,83.32 L349.27,82.68 L346.56,82.07 L343.84,81.52 L341.11,81.02 L338.37,80.56 L335.63,80.15 L332.88,79.79 L330.12,79.47 L327.36,79.21 L324.59,78.99 L321.82,78.82 L319.05,78.70 L316.27,78.62 L313.50,78.60" fill="none" stroke="#6e6e6e" stroke-width="0.75"/>
<path d="M507.70,237.60 L507.70,237.37 L507.70,237.14 L507.70,236.91 L507.69,236.68 L507.69,236.44 L507.68,236.21 L507.68,235.98 L507.67,235.75 L507.66,235.52 L507.65,235.29 L507.64,235.06 L507.63,234.83 L507.61,234.60 L507.60,234.36 L507.59,234.13 L507.57,233.90 L507.55,233.67 L507.54,233.44 L507.52,233.21 L507.50,232.98 L507.48,232.75 L507.46,232.52 L507.43,232.29 L507.41,232.06 L507.38,231.83 L507.36,231.60 L507.33,231.37 L507.30,231.14 L507.28,230.91 L507.25,230.68 L507.22,230.45 L507.18,230.22 L507.15,229.99 L507.12,229.77 L507.08,229.54 L507.05,229.31 L507.01,229.08 L506.97,228.85 L506.93,228.62 L506.89,228.40 L506.85,228.17 L506.81,227.94 L506.77,227.71 L506.73,227.49 L506.68,227.26 L506.64,227.03 L506.59,226.81 L506.54,226.58 L506.49,226.35 L506.44,226.13 L506.39,225.90 L506.34,225.68 L506.29,225.45 L506.24,225.23 L506.18,225.00 L506.13,224.78 L506.07,224.55 L506.01,224.33 L505.95,224.11 L505.89,223.88 L505.83,223.66 L505.77,223.44 L505.71,223.21 L505.65,222.99 L505.58,222.77 L505.52,222.55 L505.45,222.33 L505.38,222.10 L505.32,221.88 L505.25,221.66 L505.18,221.44 L505.11,221.22 L505.03,221.00 L504.96,220.78 L504.89,220.56 L504.81,220.34 L504.74,220.13 L504.66,219.91 L504.58,219.69 L504.50,219.47 L504.42,219.26 L504.34,219.04 L504.26,218.82 L504.18,218.61 L504.10,218.39 L504.01,218.18 L503.93,217.96 L503.84,217.75 L503.75,217.53 L503.67,217.32 L503.58,217.10 L503.49,216.89 L503.40,216.68 L503.30,216.47 L503.21,216.25 L503.12,216.04 L503.02,215.83 L502.93,215.62 L502.83,215.41 L502.73,215.20 L502.64,214.99 L502.54,214.78 L502.44,214.57 L502.34,214.37 L502.23,214.16 L502.13,213.95 L502.03,213.74 L501.92,213.54 L501.82,213.33 L501.71,213.13 L501.60,212.92 L501.50,212.72 L501.39,212.51 L501.28,212.31 L501.17,212.11 L501.05,211.91 L500.94,211.70 L500.83,211.50 L500.71,211.30 L500.60,211.10 L500.48,210.90 L500.37,210.70 L500.25,210.50 L500.13,210.30 L500.01,210.11 L499.89,209.91 L499.77,209.71 L499.65,209.51 L499.52,209.32 L499.40,209.12 L499.28,208.93 L499.15,208.73 L499.02,208.54 L498.90,208.35 L498.77,208.15 L498.64,207.96 L498.51,207.77 L498.38,207.58 L498.25,207.39 L498.12,207.20 L497.98,207.01 L497.85,206.82 L497.71,206.63 L497.58,206.45 L497.44,206.26 L497.30,206.07 L497.17,205.89 L497.03,205.70 L496.89,205.52 L496.75,205.34 L496.61,205.15 L496.46,204.97 L496.32,204.79 L496.18,204.61 L496.03,204.43 L495.89,204.25 L495.74,204.07 L495.60,203.89 L495.45,203.71 L495.30,203.53 L495.15,203.36 L495.00,203.18 L494.85,203.00 L494.70,202.83 L494.55,202.65 L494.39,202.48 L494.24,202.31 L494.09,202.14 L493.93,201.96 L493.78,201.79 L493.62,201.62 L493.46,201.45 L493.30,201.29 L493.14,201.12 L492.99,200.95 L492.83,200.78 L492.66,200.62 L492.50,200.45 L492.34,200.29 L492.18,200.12 L492.01,199.96 L491.85,199.80 L491.68,199.64 L491.52,199.47 L491.35,199.31 L491.18,199.16 L491.01,199.00 L490.85,198.84 L490.68,198.68 L490.51,198.52 L490.34,198.37 L490.16,198.21 L489.99,198.06 L489.82,197.91 L489.65,197.75 L489.47,197.60 L489.30,197.45 L489.12,197.30 L488.94,197.15 L488.77,197.00 L488.59,196.85 L488.41,196.70 L488.23,196.56 L488.05,196.41 L487.87,196.27 L487.69,196.12 L487.51,195.98 L487.33,195.84 L487.15,195.69 L486.96,195.55 L486.78,195.41 L486.60,195.27 L486.41,195.13 L486.23,195.00 L486.04,194.86 L485.85,194.72 L485.67,194.59 L485.48,194.45 L485.29,194.32 L485.10,194.18 L484.91,194.05 L484.72,193.92 L484.53,193.79 L484.34,193.66 L484.15,193.53 L483.95,193.40 L483.76,193.28 L483.57,193.15 L483.37,193.02 L483.18,192.90 L482.98,192.78 L482.79,192.65 L482.59,192.53 L482.39,192.41 L482.19,192.29 L482.00,192.17 L481.80,192.05 L481.60,191.93 L481.40,191.82 L481.20,191.70 L481.00,191.59 L480.80,191.47 L480.60,191.36 L480.39,191.25 L480.19,191.13 L479.99,191.02 L479.79,190.91 L479.58,190.80 L479.38,190.70 L479.17,190.59 L478.97,190.48 L478.76,190.38 L478.56,190.27 L478.35,190.17 L478.14,190.07 L477.93,189.96 L477.73,189.86 L477.52,189.76 L477.31,189.66 L477.10,189.57 L476.89,189.47 L476.68,189.37 L476.47,189.28 L476.26,189.18 L476.05,189.09 L475.83,189.00 L475.62,188.90 L475.41,188.81 L475.20,188.72 L474.98,188.63 L474.77,188.55 L474.55,188.46 L474.34,188.37 L474.12,188.29 L473.91,188.20 L473.69,188.12 L473.48,188.04 L473.26,187.96 L473.04,187.88 L472.83,187.80 L472.61,187.72 L472.39,187.64 L472.17,187.56 L471.96,187.49 L471.74,187.41 L471.52,187.34 L471.30,187.27 L471.08,187.19 L470.86,187.12 L470.64,187.05 L470.42,186.98 L470.20,186.92 L469.97,186.85 L469.75,186.78 L469.53,186.72 L469.31,186.65 L469.09,186.59 L468.86,186.53 L468.64,186.47 L468.42,186.41 L468.19,186.35 L467.97,186.29 L467.75,186.23 L467.52,186.17 L467.30,186.12 L467.07,186.06 L466.85,186.01 L466.62,185.96 L466.40,185.91 L466.17,185.86 L465.95,185.81 L465.72,185.76 L465.49,185.71 L465.27,185.66 L465.04,185.62 L464.81,185.57 L464.59,185.53 L464.36,185.49 L464.13,185.45 L463.90,185.41 L463.68,185.37 L463.45,185.33 L463.22,185.29 L462.99,185.25 L462.76,185.22 L462.53,185.18 L462.31,185.15 L462.08,185.12 L461.85,185.08 L461.62,185.05 L461.39,185.02 L461.16,185.00 L460.93,184.97 L460.70,184.94 L460.47,184.92 L460.24,184.89 L460.01,184.87 L459.78,184.84 L459.55,184.82 L459.32,184.80 L459.09,184.78 L458.86,184.76 L458.63,184.75 L458.40,184.73 L458.17,184.71 L457.94,184.70 L457.70,184.69 L457.47,184.67 L457.24,184.66 L457.01,184.65 L456.78,184.64 L456.55,184.63 L456.32,184.62 L456.09,184.62 L455.86,184.61 L455.62,184.61 L455.39,184.60 L455.16,184.60 L454.93,184.60 L454.70,184.60 L454.47,184.60 L454.24,184.60 L454.01,184.60 L453.78,184.61 L453.54,184.61 L453.31,184.62 L453.08,184.62 L452.85,184.63 L452.62,184.64 L452.39,184.65 L452.16,184.66 L451.93,184.67 L451.70,184.69 L451.46,184.70 L451.23,184.71 L451.00,184.73 L450.77,184.75 L450.54,184.76 L450.31,184.78 L450.08,184.80 L449.85,184.82 L449.62,184.84 L449.39,184.87 L449.16,184.89 L448.93,184.92 L448.70,184.94 L448.47,184.97 L448.24,185.00 L448.01,185.02 L447.78,185.05 L447.55,185.08 L447.32,185.12 L447.09,185.15 L446.87,185.18 L446.64,185.22 L446.41,185.25 L446.18,185.29 L445.95,185.33 L445.72,185.37 L445.50,185.41 L445.27,185.45 L445.04,185.49 L444.81,185.53 L444.59,185.57 L444.36,185.62 L444.13,185.66 L443.91,185.71 L443.68,185.76 L443.45,185.81 L443.23,185.86 L443.00,185.91 L442.78,185.96 L442.55,186.01 L442.33,186.06 L442.10,186.12 L441.88,186.17 L441.65,186.23 L441.43,186.29 L441.21,186.35 L440.98,186.41 L440.76,186.47 L440.54,186.53 L440.31,186.59 L440.09,186.65 L439.87,186.72 L439.65,186.78 L439.43,186.85 L439.20,186.92 L438.98,186.98 L438.76,187.05 L438.54,187.12 L438.32,187.19 L438.10,187.27 L437.88,187.34 L437.66,187.41 L437.44,187.49 L437.23,187.56 L437.01,187.64 L436.79,187.72 L436.57,187.80 L436.36,187.88 L436.14,187.96 L435.92,188.04 L435.71,188.12 L435.49,188.20 L435.28,188.29 L435.06,188.37 L434.85,188.46 L434.63,188.55 L434.42,188.63 L434.20,188.72 L433.99,188.81 L433.78,188.90 L433.57,189.00 L433.35,189.09 L433.14,189.18 L432.93,189.28 L432.72,189.37 L432.51,189.47 L432.30,189.57 L432.09,189.66 L431.88,189.76 L431.67,189.86 L431.47,189.96 L431.26,190.07 L431.05,190.17 L430.84,190.27 L430.64,190.38 L430.43,190.48 L430.23,190.59 L430.02,190.70 L429.82,190.80 L429.61,190.91 L429.41,191.02 L429.21,191.13 L429.01,191.25 L428.80,191.36 L428.60,191.47 L428.40,191.59 L428.20,191.70 L428.00,191.82 L427.80,191.93 L427.60,192.05 L427.40,192.17 L427.21,192.29 L427.01,192.41 L426.81,192.53 L426.61,192.65 L426.42,192.78 L426.22,192.90 L426.03,193.02 L425.83,193.15 L425.64,193.28 L425.45,193.40 L425.25,193.53 L425.06,193.66 L424.87,193.79 L424.68,193.92 L424.49,194.05 L424.30,194.18 L424.11,194.32 L423.92,194.45 L423.73,194.59 L423.55,194.72 L423.36,194.86 L423.17,195.00 L422.99,195.13 L422.80,195.27 L422.62,195.41 L422.44,195.55 L422.25,195.69 L422.07,195.84 L421.89,195.98 L421.71,196.12 L421.53,196.27 L421.35,196.41 L421.17,196.56 L420.99,196.70 L420.81,196.85 L420.63,197.00 L420.46,197.15 L420.28,197.30 L420.10,197.45 L419.93,197.60 L419.75,197.75 L419.58,197.91 L419.41,198.06 L419.24,198.21 L419.06,198.37 L418.89,198.52 L418.72,198.68 L418.55,198.84 L418.39,199.00 L418.22,199.16 L418.05,199.31 L417.88,199.47 L417.72,199.64 L417.55,199.80 L417.39,199.96 L417.22,200.12 L417.06,200.29 L416.90,200.45 L416.74,200.62 L416.57,200.78 L416.41,200.95 L416.26,201.12 L416.10,201.29 L415.94,201.45 L415.78,201.62 L415.62,201.79 L415.47,201.96 L415.31,202.14 L415.16,202.31 L415.01,202.48 L414.85,202.65 L414.70,202.83 L414.55,203.00 L414.40,203.18 L414.25,203.36 L414.10,203.53 L413.95,203.71 L413.80,203.89 L413.66,204.07 L413.51,204.25 L413.37,204.43 L413.22,204.61 L413.08,204.79 L412.94,204.97 L412.79,205.15 L412.65,205.34 L412.51,205.52 L412.37,205.70 L412.23,205.89 L412.10,206.07 L411.96,206.26 L411.82,206.45 L411.69,206.63 L411.55,206.82 L411.42,207.01 L411.28,207.20 L411.15,207.39 L411.02,207.58 L410.89,207.77 L410.76,207.96 L410.63,208.15 L410.50,208.35 L410.38,208.54 L410.25,208.73 L410.12,208.93 L410.00,209.12 L409.88,209.32 L409.75,209.51 L409.63,209.71 L409.51,209.91 L409.39,210.11 L409.27,210.30 L409.15,210.50 L409.03,210.70 L408.92,210.90 L408.80,211.10 L408.69,211.30 L408.57,211.50 L408.46,211.70 L408.35,211.91 L408.23,212.11 L408.12,212.31 L408.01,212.51 L407.90,212.72 L407.80,212.92 L407.69,213.13 L407.58,213.33 L407.48,213.54 L407.37,213.74 L407.27,213.95 L407.17,214.16 L407.06,214.37 L406.96,214.57 L406.86,214.78 L406.76,214.99 L406.67,215.20 L406.57,215.41 L406.47,215.62 L406.38,215.83 L406.28,216.04 L406.19,216.25 L406.10,216.47 L406.00,216.68 L405.91,216.89 L405.82,217.10 L405.73,217.32 L405.65,217.53 L405.56,217.75 L405.47,217.96 L405.39,218.18 L405.30,218.39 L405.22,218.61 L405.14,218.82 L405.06,219.04 L404.98,219.26 L404.90,219.47 L404.82,219.69 L404.74,219.91 L404.66,220.13 L404.59,220.34 L404.51,220.56 L404.44,220.78 L404.37,221.00 L404.29,221.22 L404.22,221.44 L404.15,221.66 L404.08,221.88 L404.02,222.10 L403.95,222.33 L403.88,222.55 L403.82,222.77 L403.75,222.99 L403.69,223.21 L403.63,223.44 L403.57,223.66 L403.51,223.88 L403.45,224.11 L403.39,224.33 L403.33,224.55 L403.27,224.78 L403.22,225.00 L403.16,225.23 L403.11,225.45 L403.06,225.68 L403.01,225.90 L402.96,226.13 L402.91,226.35 L402.86,226.58 L402.81,226.81 L402.76,227.03 L402.72,227.26 L402.67,227.49 L402.63,227.71 L402.59,227.94 L402.55,228.17 L402.51,228.40 L402.47,228.62 L402.43,228.85 L402.39,229.08 L402.35,229.31 L402.32,229.54 L402.28,229.77 L402.25,229.99 L402.22,230.22 L402.18,230.45 L402.15,230.68 L402.12,230.91 L402.10,231.14 L402.07,231.37 L402.04,231.60 L402.02,231.83 L401.99,232.06 L401.97,232.29 L401.94,232.52 L401.92,232.75 L401.90,232.98 L401.88,233.21 L401.86,233.44 L401.85,233.67 L401.83,233.90 L401.81,234.13 L401.80,234.36 L401.79,234.60 L401.77,234.83 L401.76,235.06 L401.75,235.29 L401.74,235.52 L401.73,235.75 L401.72,235.98 L401.72,236.21 L401.71,236.44 L401.71,236.68 L401.70,236.91 L401.70,237.14 L401.70,237.37 L401.70,237.60" fill="none" stroke="#33a033" stroke-width="1" stroke-dasharray="3.2,2.6"/>
<path d="M503.23,143.36 L502.82,143.15 L502.41,142.94 L502.00,142.74 L501.58,142.53 L501.17,142.33 L500.75,142.13 L500.33,141.93 L499.92,141.73 L499.50,141.53 L499.08,141.34 L498.66,141.14 L498.24,140.95 L497.81,140.76 L497.39,140.58 L496.97,140.39 L496.54,140.21 L496.12,140.03 L495.69,139.85 L495.26,139.67 L494.84,139.49 L494.41,139.32 L493.98,139.15 L493.55,138.98 L493.12,138.81 L492.69,138.64 L492.25,138.48 L491.82,138.31 L491.39,138.15 L490.95,137.99 L490.52,137.84 L490.08,137.68 L489.65,137.53 L489.21,137.38 L488.77,137.23 L488.33,137.08 L487.90,136.93 L487.46,136.79 L487.02,136.65 L486.57,136.51 L486.13,136.37 L485.69,136.23 L485.25,136.10 L484.81,135.97 L484.36,135.83 L483.92,135.71 L483.47,135.58 L483.03,135.46 L482.58,135.33 L482.13,135.21 L481.69,135.09 L481.24,134.98 L480.79,134.86 L480.34,134.75 L479.89,134.64 L479.45,134.53 L479.00,134.42 L478.54,134.32 L478.09,134.21 L477.64,134.11 L477.19,134.01 L476.74,133.92 L476.29,133.82 L475.83,133.73 L475.38,133.64 L474.93,133.55 L474.47,133.46 L474.02,133.37 L473.56,133.29 L473.11,133.21 L472.65,133.13 L472.20,133.05 L471.74,132.98 L471.28,132.91 L470.83,132.83 L470.37,132.76 L469.91,132.70 L469.45,132.63 L468.99,132.57 L468.54,132.51 L468.08,132.45 L467.62,132.39 L467.16,132.33 L466.70,132.28 L466.24,132.23 L465.78,132.18 L465.32,132.13 L464.86,132.09 L464.40,132.04 L463.94,132.00 L463.48,131.96 L463.02,131.93 L462.56,131.89 L462.09,131.86 L461.63,131.83 L461.17,131.80 L460.71,131.77 L460.25,131.75 L459.79,131.72 L459.32,131.70 L458.86,131.68 L458.40,131.66 L457.94,131.65 L457.47,131.64 L457.01,131.63 L456.55,131.62 L456.09,131.61 L455.63,131.60 L455.16,131.60 L454.70,131.60 L454.24,131.60 L453.77,131.60 L453.31,131.61 L452.85,131.62 L452.39,131.63 L451.93,131.64 L451.46,131.65 L451.00,131.66 L450.54,131.68 L450.08,131.70 L449.61,131.72 L449.15,131.75 L448.69,131.77 L448.23,131.80 L447.77,131.83 L447.31,131.86 L446.84,131.89 L446.38,131.93 L445.92,131.96 L445.46,132.00 L445.00,132.04 L444.54,132.09 L444.08,132.13 L443.62,132.18 L443.16,132.23 L442.70,132.28 L442.24,132.33 L441.78,132.39 L441.32,132.45 L440.86,132.51 L440.41,132.57 L439.95,132.63 L439.49,132.70 L439.03,132.76 L438.57,132.83 L438.12,132.91 L437.66,132.98 L437.20,133.05 L436.75,133.13 L436.29,133.21 L435.84,133.29 L435.38,133.37 L434.93,133.46 L434.47,133.55 L434.02,133.64 L433.57,133.73 L433.11,133.82 L432.66,133.92 L432.21,134.01 L431.76,134.11 L431.31,134.21 L430.86,134.32 L430.40,134.42 L429.95,134.53 L429.51,134.64 L429.06,134.75 L428.61,134.86 L428.16,134.98 L427.71,135.09 L427.27,135.21 L426.82,135.33 L426.37,135.46 L425.93,135.58 L425.48,135.71 L425.04,135.83 L424.59,135.97 L424.15,136.10 L423.71,136.23 L423.27,136.37 L422.83,136.51 L422.38,136.65 L421.94,136.79 L421.50,136.93 L421.07,137.08 L420.63,137.23 L420.19,137.38 L419.75,137.53 L419.32,137.68 L418.88,137.84 L418.45,137.99 L418.01,138.15 L417.58,138.31 L417.15,138.48 L416.71,138.64 L416.28,138.81 L415.85,138.98 L415.42,139.15 L414.99,139.32 L414.56,139.49 L414.14,139.67 L413.71,139.85 L413.28,140.03 L412.86,140.21 L412.43,140.39 L412.01,140.58 L411.59,140.76 L411.16,140.95 L410.74,141.14 L410.32,141.34 L409.90,141.53 L409.48,141.73 L409.07,141.93 L408.65,142.13 L408.23,142.33 L407.82,142.53 L407.40,142.74 L406.99,142.94 L406.58,143.15 L406.17,143.36 L405.75,143.58 L405.34,143.79 L404.94,144.01 L404.53,144.23 L404.12,144.45 L403.72,144.67 L403.31,144.89 L402.91,145.12 L402.50,145.34 L402.10,145.57 L401.70,145.80 L401.30,146.03 L400.90,146.27 L400.50,146.50 L400.11,146.74 L399.71,146.98 L399.32,147.22 L398.92,147.46 L398.53,147.71 L398.14,147.95 L397.75,148.20 L397.36,148.45 L396.97,148.70 L396.58,148.95 L396.19,149.21 L395.81,149.46 L395.43,149.72 L395.04,149.98 L394.66,150.24 L394.28,150.51 L393.90,150.77 L393.52,151.04 L393.15,151.30 L392.77,151.57 L392.39,151.84 L392.02,152.12 L391.65,152.39 L391.28,152.67 L390.91,152.94 L390.54,153.22 L390.17,153.50 L389.80,153.79 L389.44,154.07 L389.08,154.36 L388.71,154.64 L388.35,154.93 L387.99,155.22 L387.63,155.51 L387.28,155.81 L386.92,156.10 L386.56,156.40 L386.21,156.70 L385.86,157.00 L385.51,157.30 L385.16,157.60 L384.81,157.90 L384.46,158.21 L384.12,158.52 L383.77,158.83 L383.43,159.14 L383.09,159.45 L382.75,159.76 L382.41,160.08 L382.07,160.39 L381.73,160.71 L381.40,161.03 L381.07,161.35 L380.73,161.67 L380.40,162.00 L380.07,162.32 L379.75,162.65 L379.42,162.97 L379.10,163.30 L378.77,163.63 L378.45,163.97 L378.13,164.30 L377.81,164.63 L377.49,164.97 L377.18,165.31 L376.86,165.65 L376.55,165.99 L376.24,166.33 L375.93,166.67 L375.62,167.02 L375.31,167.36 L375.00,167.71 L374.70,168.06 L374.40,168.41 L374.10,168.76 L373.80,169.11 L373.50,169.46 L373.20,169.82 L372.91,170.18 L372.61,170.53 L372.32,170.89 L372.03,171.25 L371.74,171.61 L371.46,171.98 L371.17,172.34 L370.89,172.70 L370.60,173.07 L370.32,173.44 L370.04,173.81 L369.77,174.18 L369.49,174.55 L369.22,174.92 L368.94,175.29 L368.67,175.67 L368.40,176.05 L368.14,176.42 L367.87,176.80 L367.61,177.18 L367.34,177.56 L367.08,177.94 L366.82,178.33 L366.56,178.71 L366.31,179.09 L366.05,179.48 L365.80,179.87 L365.55,180.26 L365.30,180.65 L365.05,181.04 L364.81,181.43 L364.56,181.82 L364.32,182.22 L364.08,182.61 L363.84,183.01 L363.60,183.40 L363.37,183.80 L363.13,184.20 L362.90,184.60 L362.67,185.00 L362.44,185.40 L362.22,185.81 L361.99,186.21 L361.77,186.62 L361.55,187.02 L361.33,187.43 L361.11,187.84 L360.89,188.24 L360.68,188.65 L360.46,189.07 L360.25,189.48 L360.04,189.89 L359.84,190.30 L359.63,190.72 L359.43,191.13 L359.23,191.55 L359.03,191.97 L358.83,192.38 L358.63,192.80 L358.44,193.22 L358.24,193.64 L358.05,194.06 L357.86,194.49 L357.68,194.91 L357.49,195.33 L357.31,195.76 L357.13,196.18 L356.95,196.61 L356.77,197.04 L356.59,197.46 L356.42,197.89 L356.25,198.32 L356.08,198.75 L355.91,199.18 L355.74,199.61 L355.58,200.05 L355.41,200.48 L355.25,200.91 L355.09,201.35 L354.94,201.78 L354.78,202.22 L354.63,202.65 L354.48,203.09 L354.33,203.53 L354.18,203.97 L354.03,204.40 L353.89,204.84 L353.75,205.28 L353.61,205.73 L353.47,206.17 L353.33,206.61 L353.20,207.05 L353.07,207.49 L352.93,207.94 L352.81,208.38 L352.68,208.83 L352.56,209.27 L352.43,209.72 L352.31,210.17 L352.19,210.61 L352.08,211.06 L351.96,211.51 L351.85,211.96 L351.74,212.41 L351.63,212.85 L351.52,213.30 L351.42,213.76 L351.31,214.21 L351.21,214.66 L351.11,215.11 L351.02,215.56 L350.92,216.01 L350.83,216.47 L350.74,216.92 L350.65,217.37 L350.56,217.83 L350.47,218.28 L350.39,218.74 L350.31,219.19 L350.23,219.65 L350.15,220.10 L350.08,220.56 L350.01,221.02 L349.93,221.47 L349.86,221.93 L349.80,222.39 L349.73,222.85 L349.67,223.31 L349.61,223.76 L349.55,224.22 L349.49,224.68 L349.43,225.14 L349.38,225.60 L349.33,226.06 L349.28,226.52 L349.23,226.98 L349.19,227.44 L349.14,227.90 L349.10,228.36 L349.06,228.82 L349.03,229.28 L348.99,229.74 L348.96,230.21 L348.93,230.67 L348.90,231.13 L348.87,231.59 L348.85,232.05 L348.82,232.51 L348.80,232.98 L348.78,233.44 L348.76,233.90 L348.75,234.36 L348.74,234.83 L348.73,235.29 L348.72,235.75 L348.71,236.21 L348.70,236.67 L348.70,237.14 L348.70,237.60" fill="none" stroke="#33a033" stroke-width="1" stroke-dasharray="3.2,2.6"/>
<path d="M453.31,78.61 L452.62,78.61 L451.93,78.62 L451.23,78.64 L450.54,78.65 L449.84,78.67 L449.15,78.70 L448.46,78.72 L447.76,78.75 L447.07,78.78 L446.38,78.82 L445.69,78.86 L444.99,78.90 L444.30,78.94 L443.61,78.99 L442.92,79.04 L442.23,79.09 L441.53,79.15 L440.84,79.21 L440.15,79.27 L439.46,79.33 L438.77,79.40 L438.08,79.47 L437.39,79.55 L436.70,79.62 L436.01,79.70 L435.32,79.79 L434.63,79.87 L433.95,79.96 L433.26,80.05 L432.57,80.15 L431.88,80.25 L431.20,80.35 L430.51,80.45 L429.83,80.56 L429.14,80.67 L428.46,80.78 L427.77,80.90 L427.09,81.02 L426.41,81.14 L425.72,81.26 L425.04,81.39 L424.36,81.52 L423.68,81.66 L423.00,81.79 L422.32,81.93 L421.64,82.07 L420.96,82.22 L420.29,82.37 L419.61,82.52 L418.93,82.68 L418.26,82.83 L417.58,82.99 L416.91,83.16 L416.23,83.32 L415.56,83.49 L414.89,83.66 L414.22,83.84 L413.55,84.02 L412.88,84.20 L412.21,84.38 L411.54,84.57 L410.87,84.76 L410.21,84.95 L409.54,85.15 L408.88,85.35 L408.21,85.55 L407.55,85.75 L406.89,85.96 L406.23,86.17 L405.57,86.38 L404.91,86.60 L404.25,86.82 L403.59,87.04 L402.93,87.26 L402.28,87.49 L401.62,87.72 L400.97,87.95 L400.32,88.19 L399.67,88.43 L399.02,88.67 L398.37,88.91 L397.72,89.16 L397.07,89.41 L396.43,89.66 L395.78,89.92 L395.14,90.18 L394.49,90.44 L393.85,90.70 L393.21,90.97 L392.57,91.24 L391.94,91.51 L391.30,91.79 L390.66,92.07 L390.03,92.35 L389.40,92.63 L388.76,92.92 L388.13,93.21 L387.50,93.50 L386.88,93.79 L386.25,94.09 L385.62,94.39 L385.00,94.69 L384.38,95.00 L383.75,95.31 L383.13,95.62 L382.52,95.93 L381.90,96.25 L381.28,96.57 L380.67,96.89 L380.05,97.21 L379.44,97.54 L378.83,97.87 L378.22,98.20 L377.62,98.54 L377.01,98.87 L376.40,99.21 L375.80,99.56 L375.20,99.90 L374.60,100.25 L374.00,100.60 L373.40,100.95 L372.81,101.31 L372.22,101.67 L371.62,102.03 L371.03,102.39 L370.44,102.76 L369.86,103.13 L369.27,103.50 L368.69,103.87 L368.10,104.25 L367.52,104.63 L366.94,105.01 L366.36,105.40 L365.79,105.78 L365.21,106.17 L364.64,106.56 L364.07,106.96 L363.50,107.35 L362.93,107.75 L362.37,108.16 L361.80,108.56 L361.24,108.97 L360.68,109.38 L360.12,109.79 L359.57,110.20 L359.01,110.62 L358.46,111.04 L357.91,111.46 L357.36,111.88 L356.81,112.31 L356.26,112.73 L355.72,113.17 L355.18,113.60 L354.64,114.03 L354.10,114.47 L353.56,114.91 L353.03,115.35 L352.50,115.80 L351.97,116.25 L351.44,116.70 L350.91,117.15 L350.39,117.60 L349.86,118.06 L349.34,118.52 L348.82,118.98 L348.31,119.44 L347.79,119.91 L347.28,120.37 L346.77,120.84 L346.26,121.31 L345.76,121.79 L345.25,122.27 L344.75,122.74 L344.25,123.22 L343.75,123.71 L343.26,124.19 L342.76,124.68 L342.27,125.17 L341.78,125.66 L341.29,126.16 L340.81,126.65 L340.32,127.15 L339.84,127.65 L339.37,128.15 L338.89,128.66 L338.41,129.16 L337.94,129.67 L337.47,130.18 L337.01,130.69 L336.54,131.21 L336.08,131.72 L335.62,132.24 L335.16,132.76 L334.70,133.29 L334.25,133.81 L333.80,134.34 L333.35,134.87 L332.90,135.40 L332.45,135.93 L332.01,136.46 L331.57,137.00 L331.13,137.54 L330.70,138.08 L330.27,138.62 L329.83,139.16 L329.41,139.71 L328.98,140.26 L328.56,140.81 L328.14,141.36 L327.72,141.91 L327.30,142.47 L326.89,143.02 L326.48,143.58 L326.07,144.14 L325.66,144.70 L325.26,145.27 L324.85,145.83 L324.45,146.40 L324.06,146.97 L323.66,147.54 L323.27,148.11 L322.88,148.69 L322.50,149.26 L322.11,149.84 L321.73,150.42 L321.35,151.00 L320.97,151.59 L320.60,152.17 L320.23,152.76 L319.86,153.34 L319.49,153.93 L319.13,154.52 L318.77,155.12 L318.41,155.71 L318.05,156.30 L317.70,156.90 L317.35,157.50 L317.00,158.10 L316.66,158.70 L316.31,159.30 L315.97,159.91 L315.64,160.52 L315.30,161.12 L314.97,161.73 L314.64,162.34 L314.31,162.95 L313.99,163.57 L313.67,164.18" fill="none" stroke="#33a033" stroke-width="1" stroke-dasharray="3.2,2.6"/>
<path d="M454.70,237.60 L454.68,235.14 L454.61,232.67 L454.51,230.21 L454.36,227.75 L454.16,225.29 L453.93,222.84 L453.65,220.39 L453.33,217.95 L452.96,215.51 L452.55,213.08 L452.11,210.66 L451.61,208.24 L451.08,205.84 L450.51,203.44 L449.89,201.05 L449.23,198.68 L448.53,196.32 L447.79,193.97 L447.01,191.63 L446.18,189.31 L445.32,187.00 L444.42,184.71 L443.48,182.43 L442.49,180.17 L441.47,177.93 L440.41,175.70 L439.31,173.50 L438.17,171.31 L437.00,169.14 L435.78,167.00 L434.53,164.88 L433.24,162.78 L431.92,160.70 L430.56,158.64 L429.16,156.61 L427.73,154.60 L426.27,152.62 L424.77,150.67 L423.23,148.74 L421.67,146.84 L420.06,144.96 L418.43,143.12 L416.77,141.30 L415.07,139.51 L413.34,137.76 L411.59,136.03 L409.80,134.33 L407.98,132.67 L406.14,131.04 L404.26,129.43 L402.36,127.87 L400.43,126.33 L398.48,124.83 L396.50,123.37 L394.49,121.94 L392.46,120.54 L390.40,119.18 L388.32,117.86 L386.22,116.57 L384.10,115.32 L381.96,114.10 L379.79,112.93 L377.60,111.79 L375.40,110.69 L373.17,109.63 L370.93,108.61 L368.67,107.62 L366.39,106.68 L364.10,105.78 L361.79,104.92 L359.47,104.09 L357.13,103.31 L354.78,102.57 L352.42,101.87 L350.05,101.21 L347.66,100.59 L345.26,100.02 L342.86,99.49 L340.44,98.99 L338.02,98.55 L335.59,98.14 L333.15,97.77 L330.71,97.45 L328.26,97.17 L325.81,96.94 L323.35,96.74 L320.89,96.59 L318.43,96.49 L315.96,96.42 L313.50,96.40" fill="none" stroke="#000" stroke-width="0.95" stroke-dasharray="2.8,2.5"/>
<line x1="313.50" y1="237.60" x2="355.90" y2="29.88" stroke="#2626f5" stroke-width="0.8" stroke-dasharray="3,0.6"/>
<line x1="313.50" y1="237.60" x2="398.30" y2="43.30" stroke="#2626f5" stroke-width="0.8" stroke-dasharray="3,0.6"/>
<line x1="313.50" y1="237.60" x2="440.70" y2="68.00" stroke="#2626f5" stroke-width="0.8" stroke-dasharray="3,0.6"/>
<line x1="313.50" y1="237.60" x2="483.10" y2="110.40" stroke="#2626f5" stroke-width="0.8" stroke-dasharray="3,0.6"/>
<line x1="313.50" y1="237.60" x2="504.30" y2="145.19" stroke="#2626f5" stroke-width="0.8" stroke-dasharray="3,0.6"/>
<line x1="313.50" y1="237.60" x2="514.90" y2="171.40" stroke="#2626f5" stroke-width="0.8" stroke-dasharray="3,0.6"/>
<line x1="313.50" y1="237.60" x2="523.38" y2="207.69" stroke="#2626f5" stroke-width="0.8" stroke-dasharray="3,0.6"/>
<path d="M525.50,237.60 L525.47,233.90 L525.37,230.20 L525.21,226.50 L524.98,222.81 L524.69,219.12 L524.34,215.44 L523.92,211.76 L523.44,208.10 L522.89,204.44 L522.28,200.79 L521.60,197.15 L520.87,193.52 L520.07,189.91 L519.20,186.31 L518.28,182.73 L517.29,179.16 L516.24,175.62 L515.12,172.09 L513.95,168.58 L512.71,165.09 L511.42,161.63 L510.06,158.18 L508.65,154.77 L507.17,151.37 L505.64,148.00 L504.04,144.67 L502.39,141.35 L500.68,138.07 L498.92,134.82 L497.10,131.60 L495.22,128.41 L493.29,125.26 L491.30,122.14 L489.26,119.05 L487.16,116.00 L485.01,112.99 L482.81,110.02 L480.56,107.08 L478.25,104.18 L475.90,101.33 L473.50,98.52 L471.05,95.74 L468.55,93.02 L466.00,90.33 L463.41,87.69 L460.77,85.10 L458.08,82.55 L455.36,80.05 L452.58,77.60 L449.77,75.20 L446.92,72.85 L444.02,70.54 L441.08,68.29 L438.11,66.09 L435.10,63.94 L432.05,61.84 L428.96,59.80 L425.84,57.81 L422.69,55.88 L419.50,54.00 L416.28,52.18 L413.03,50.42 L409.75,48.71 L406.43,47.06 L403.10,45.46 L399.73,43.93 L396.33,42.45 L392.92,41.04 L389.47,39.68 L386.01,38.39 L382.52,37.15 L379.01,35.98 L375.48,34.86 L371.94,33.81 L368.37,32.82 L364.79,31.90 L361.19,31.03 L357.58,30.23 L353.95,29.50 L350.31,28.82 L346.66,28.21 L343.00,27.66 L339.34,27.18 L335.66,26.76 L331.98,26.41 L328.29,26.12 L324.60,25.89 L320.90,25.73 L317.20,25.63 L313.50,25.60" fill="none" stroke="#3a3a3a" stroke-width="1"/>
<line x1="313.50" y1="25.60" x2="313.50" y2="237.60" stroke="#444" stroke-width="1"/>
<line x1="313.50" y1="237.60" x2="525.50" y2="237.60" stroke="#9a9a9a" stroke-width="1.6"/>
<text x="309.50" y="242.20" font-size="10" text-anchor="end" fill="#222">0</text>
<text x="309.50" y="189.20" font-size="10" text-anchor="end" fill="#222">30</text>
<text x="309.50" y="136.20" font-size="10" text-anchor="end" fill="#222">60</text>
<text x="309.50" y="83.20" font-size="10" text-anchor="end" fill="#222">90</text>
<text x="309.50" y="30.20" font-size="10" text-anchor="end" fill="#222">120</text>
<text x="313.50" y="19.90" font-size="10" text-anchor="middle" fill="#2626f5">0</text>
<text x="358.00" y="24.40" font-size="10" text-anchor="middle" fill="#2626f5">0.2</text>
<text x="402.50" y="38.48" font-size="10" text-anchor="middle" fill="#2626f5">0.4</text>
<text x="447.00" y="64.40" font-size="10" text-anchor="middle" fill="#2626f5">0.6</text>
<text x="491.50" y="108.90" font-size="10" text-anchor="middle" fill="#2626f5">0.8</text>
<text x="513.75" y="145.41" font-size="10" text-anchor="middle" fill="#2626f5">0.9</text>
<text x="524.88" y="172.92" font-size="10" text-anchor="middle" fill="#2626f5">0.95</text>
<text x="533.77" y="211.01" font-size="10" text-anchor="middle" fill="#2626f5">0.99</text>
<text x="431.25" y="33.65" font-size="11" text-anchor="middle" fill="#2626f5" transform="rotate(30.00 431.25 33.65)">C</text>
<text x="436.07" y="36.51" font-size="11" text-anchor="middle" fill="#2626f5" transform="rotate(31.36 436.07 36.51)">o</text>
<text x="440.82" y="39.48" font-size="11" text-anchor="middle" fill="#2626f5" transform="rotate(32.73 440.82 39.48)">r</text>
<text x="445.50" y="42.57" font-size="11" text-anchor="middle" fill="#2626f5" transform="rotate(34.09 445.50 42.57)">r</text>
<text x="450.10" y="45.77" font-size="11" text-anchor="middle" fill="#2626f5" transform="rotate(35.45 450.10 45.77)">e</text>
<text x="454.63" y="49.07" font-size="11" text-anchor="middle" fill="#2626f5" transform="rotate(36.82 454.63 49.07)">l</text>
<text x="459.08" y="52.48" font-size="11" text-anchor="middle" fill="#2626f5" transform="rotate(38.18 459.08 52.48)">a</text>
<text x="463.44" y="56.00" font-size="11" text-anchor="middle" fill="#2626f5" transform="rotate(39.55 463.44 56.00)">t</text>
<text x="467.72" y="59.62" font-size="11" text-anchor="middle" fill="#2626f5" transform="rotate(40.91 467.72 59.62)">i</text>
<text x="471.91" y="63.34" font-size="11" text-anchor="middle" fill="#2626f5" transform="rotate(42.27 471.91 63.34)">o</text>
<text x="476.01" y="67.16" font-size="11" text-anchor="middle" fill="#2626f5" transform="rotate(43.64 476.01 67.16)">n</text>
<text x="483.94" y="75.09" font-size="11" text-anchor="middle" fill="#2626f5" transform="rotate(46.36 483.94 75.09)">C</text>
<text x="487.76" y="79.19" font-size="11" text-anchor="middle" fill="#2626f5" transform="rotate(47.73 487.76 79.19)">o</text>
<text x="491.48" y="83.38" font-size="11" text-anchor="middle" fill="#2626f5" transform="rotate(49.09 491.48 83.38)">e</text>
<text x="495.10" y="87.66" font-size="11" text-anchor="middle" fill="#2626f5" transform="rotate(50.45 495.10 87.66)">f</text>
<text x="498.62" y="92.02" font-size="11" text-anchor="middle" fill="#2626f5" transform="rotate(51.82 498.62 92.02)">f</text>
<text x="502.03" y="96.47" font-size="11" text-anchor="middle" fill="#2626f5" transform="rotate(53.18 502.03 96.47)">i</text>
<text x="505.33" y="101.00" font-size="11" text-anchor="middle" fill="#2626f5" transform="rotate(54.55 505.33 101.00)">c</text>
<text x="508.53" y="105.60" font-size="11" text-anchor="middle" fill="#2626f5" transform="rotate(55.91 508.53 105.60)">i</text>
<text x="511.62" y="110.28" font-size="11" text-anchor="middle" fill="#2626f5" transform="rotate(57.27 511.62 110.28)">e</text>
<text x="514.59" y="115.03" font-size="11" text-anchor="middle" fill="#2626f5" transform="rotate(58.64 514.59 115.03)">n</text>
<text x="517.45" y="119.85" font-size="11" text-anchor="middle" fill="#2626f5" transform="rotate(60.00 517.45 119.85)">t</text>
<text x="434.34" y="184.10" font-size="11" text-anchor="middle" fill="#33a033" transform="rotate(-24 434.34 180.10)">30</text>
<text x="408.33" y="137.46" font-size="11" text-anchor="middle" fill="#33a033" transform="rotate(-36 408.33 133.46)">60</text>
<text x="381.49" y="91.50" font-size="11" text-anchor="middle" fill="#33a033" transform="rotate(-42 381.49 87.50)">90</text>
<text x="458.70" y="230.10" font-size="10" text-anchor="middle" fill="#33a033" transform="rotate(-30 458.70 226.50)">0</text>
<text x="374.90" y="253.9" font-size="11" fill="#4f8a2a">cRMSE</text>
<text x="0" y="0" font-size="10.5" text-anchor="middle" fill="#222" transform="translate(292.00,115.7) rotate(-90)">Standard deviation</text>
<text x="322.30" y="9.6" font-size="12.3" font-weight="bold" fill="#111">End of growing seasons</text>
<text x="271.30" y="9.4" font-size="12" fill="#222">(b)</text>
<circle cx="455.1" cy="238.0" r="8.8" fill="#e5676a"/>
<circle cx="410.2" cy="141.6" r="7.0" fill="#6c8bc9"/>
<circle cx="379.4" cy="122.8" r="6.5" fill="#98c24b"/>
<circle cx="442" cy="159.8" r="5.3" fill="#eca13c"/>
<polygon points="446.20,162.60 443.60,170.62 435.17,170.62 441.99,175.57 439.38,183.58 446.20,178.63 453.02,183.58 450.41,175.57 457.23,170.62 448.80,170.62" fill="#bd5f84"/>
<circle cx="451" cy="176.4" r="2.2" fill="#ebcd64"/>
<circle cx="575.8" cy="81.5" r="5.7" fill="#e5676a"/>
<text x="587.4" y="85.70" font-size="10.7" fill="#222">GPP (n = 165)</text>
<polygon points="575.70,89.30 574.25,93.76 569.57,93.76 573.36,96.51 571.91,100.97 575.70,98.21 579.49,100.97 578.04,96.51 581.83,93.76 577.15,93.76" fill="#bd5f84"/>
<text x="587.4" y="99.95" font-size="10.7" fill="#222">GDPD (n = 164)</text>
<circle cx="575.8" cy="109.3" r="5.9" fill="#6c8bc9"/>
<text x="587.4" y="113.50" font-size="10.7" fill="#222">VIPPHEN (n = 129)</text>
<circle cx="575.8" cy="122.8" r="5.6" fill="#98c24b"/>
<text x="587.4" y="127.00" font-size="10.7" fill="#222">AVH12 (n = 118)</text>
<circle cx="575.8" cy="136.7" r="5.5" fill="#eca13c"/>
<text x="587.4" y="140.90" font-size="10.7" fill="#222">MCD12Q2 (n = 100)</text>
<circle cx="575.8" cy="150.1" r="2.2" fill="#ebcd64"/>
<text x="587.4" y="154.30" font-size="10.7" fill="#222">VNP22Q2 (n = 34)</text>
</svg>
</body></html>
